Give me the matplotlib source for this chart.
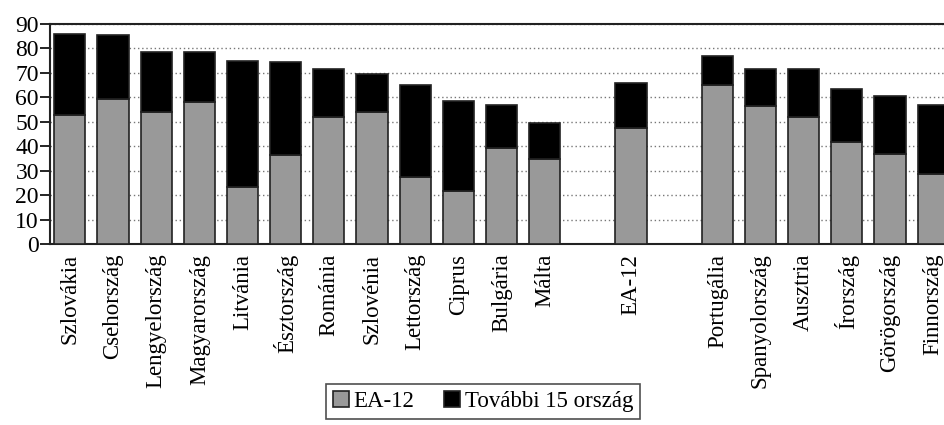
import matplotlib.pyplot as plt
import numpy as np

plt.rcParams['font.family'] = ['Liberation Serif', 'DejaVu Serif']

# countries, with empty slots as gaps between the groups
labels = ['Szlovákia', 'Csehország', 'Lengyelország', 'Magyarország', 'Litvánia',
          'Észtország', 'Románia', 'Szlovénia', 'Lettország', 'Ciprus', 'Bulgária',
          'Málta', '', 'EA-12', '', 'Portugália', 'Spanyolország', 'Ausztria',
          'Írország', 'Görögország', 'Finnország']
ea12 = [52.9, 59.3, 53.9, 58.0, 23.2, 36.4, 51.8, 53.9, 27.4, 21.8, 39.1,
        34.9, 0, 47.6, 0, 64.9, 56.5, 51.8, 41.9, 37.0, 28.8]
total = [86.0, 85.5, 78.5, 78.5, 74.9, 74.3, 71.5, 69.5, 65.2, 58.4, 57.0,
         49.5, 0, 65.9, 0, 76.9, 71.5, 71.5, 63.3, 60.4, 57.0]
tovabbi = [t - e for t, e in zip(total, ea12)]

x = np.arange(len(labels))
mask = np.array(total) > 0

fig = plt.figure(figsize=(9.45, 4.25), dpi=100)
ax = fig.add_axes([50/945, 1 - 244/425, 922/945, 220/425])

ax.bar(x[mask], np.array(ea12)[mask], width=0.72, color='#999999',
       edgecolor='#222222', linewidth=1.2, label='EA-12', zorder=3)
ax.bar(x[mask], np.array(tovabbi)[mask], width=0.72, bottom=np.array(ea12)[mask],
       color='black', edgecolor='#222222', linewidth=1.2,
       label='További 15 ország', zorder=3)

ax.set_xlim(-0.46, 20.9)
ax.set_ylim(0, 90)
ax.set_yticks(range(0, 91, 10))
ax.yaxis.grid(True, linestyle=(0, (1, 2)), color='#777777', linewidth=1.0, zorder=0)
ax.set_axisbelow(True)
ax.set_xticks(x)
ax.set_xticklabels(labels, rotation=90, fontsize=16.5)
ax.tick_params(axis='x', length=0, pad=7)
ax.tick_params(axis='y', length=7, width=1.2, labelsize=17, pad=1)
for s in ax.spines.values():
    s.set_linewidth(1.5)
    s.set_color('#222222')

leg = fig.legend(loc='upper center', bbox_to_anchor=(483/945, 1 - 384/425),
                 ncol=2, fontsize=16.5, frameon=True, fancybox=False,
                 edgecolor='#222222', handlelength=0.7, handleheight=0.7,
                 handletextpad=0.2, columnspacing=1.3, borderpad=0.3,
                 borderaxespad=0)
leg.get_frame().set_linewidth(1.2)

fig.savefig('out.png', dpi=100)
